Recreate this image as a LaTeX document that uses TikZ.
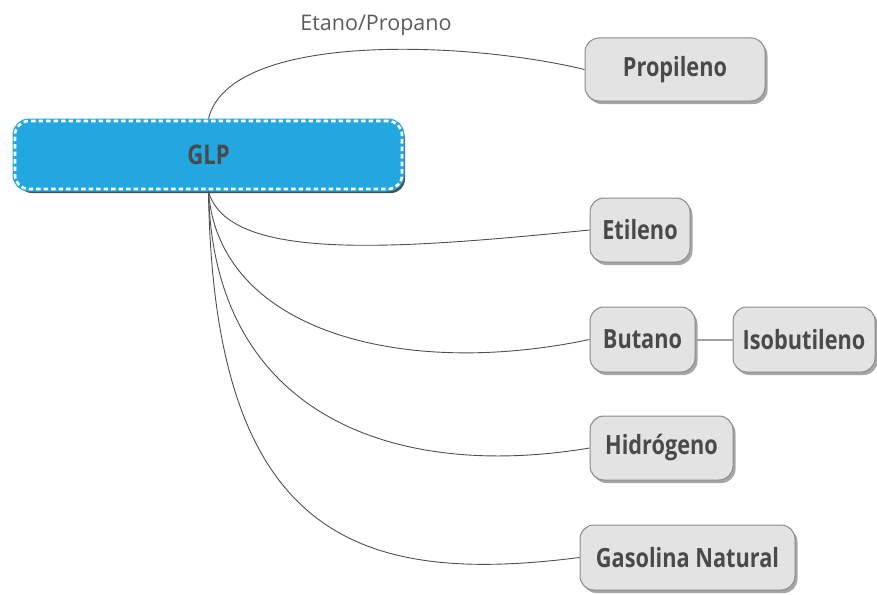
\documentclass[tikz,border=0pt]{standalone}
\usepackage{fontspec}
\setmainfont{Open Sans}
\newfontfamily\labelfont[FakeStretch=0.82]{Open Sans}
\usetikzlibrary{shadows}
\definecolor{glpblue}{HTML}{22A7E0}
\definecolor{boxfill}{HTML}{E3E3E3}
\definecolor{boxline}{HTML}{8A8A8A}
\definecolor{txtgray}{HTML}{4A4A4A}
\definecolor{edgegray}{HTML}{4F4F4F}
\begin{document}
\begin{tikzpicture}[x=1pt,y=-1pt,
  topic/.style={rounded corners=14pt, fill=boxfill, draw=boxline, line width=1pt,
    text=txtgray, font=\labelfont\bfseries\fontsize{26.5}{30}\selectfont,
    inner sep=0pt, anchor=center,
    drop shadow={shadow xshift=2.5pt, shadow yshift=-3pt, fill=black, opacity=0.35}},
  central/.style={rounded corners=14pt, fill=glpblue, draw=glpblue, line width=5pt,
    text=txtgray, font=\labelfont\bfseries\fontsize{27}{30}\selectfont,
    inner sep=0pt, anchor=center,
    drop shadow={shadow xshift=3pt, shadow yshift=-4pt, fill=black, opacity=0.7},
    postaction={draw=white, line width=2.6pt, dash pattern=on 4.5pt off 3pt}},
  link/.style={draw=edgegray, line width=0.9pt},
  sibling/.style={draw=boxline!80, line width=2pt}
]
\useasboundingbox (0,0) rectangle (877,594);

\node[central, minimum width=387pt, minimum height=68pt] (glp) at (208.5,155) {GLP};

\node[topic, minimum width=180pt, minimum height=63pt] (propileno) at (675,69.5) {Propileno};
\node[topic, minimum width=100pt, minimum height=64pt] (etileno) at (640,230) {Etileno};
\node[topic, minimum width=105pt, minimum height=65pt] (butano) at (642.5,339.5) {Butano};
\node[topic, minimum width=142pt, minimum height=65pt] (isobutileno) at (804,339.5) {Isobutileno};
\node[topic, minimum width=143pt, minimum height=64pt] (hidrogeno) at (661.5,448) {Hidrógeno};
\node[topic, minimum width=215pt, minimum height=65pt] (gasolina) at (687.5,557.5) {Gasolina Natural};

% branches from the central topic
\draw[link] (glp.north) .. controls +(22,-88) and +(-115,-28) .. (propileno.west);
\draw[link] (glp.south) .. controls +(20,70) and +(-200,20) .. (etileno.west);
\draw[link] (glp.south) .. controls +(10,138) and +(-190,40) .. (butano.west);
\draw[link] (glp.south) .. controls +(5,228) and +(-190,32) .. (hidrogeno.west);
\draw[link] (glp.south) .. controls +(5,348) and +(-220,28) .. (gasolina.west);
\draw[sibling] (butano.east) -- (isobutileno.west);

\node[text=txtgray!90, font=\fontsize{21.5}{24}\selectfont] (etano) at (376,25) {Etano/Propano};
\end{tikzpicture}
\end{document}
